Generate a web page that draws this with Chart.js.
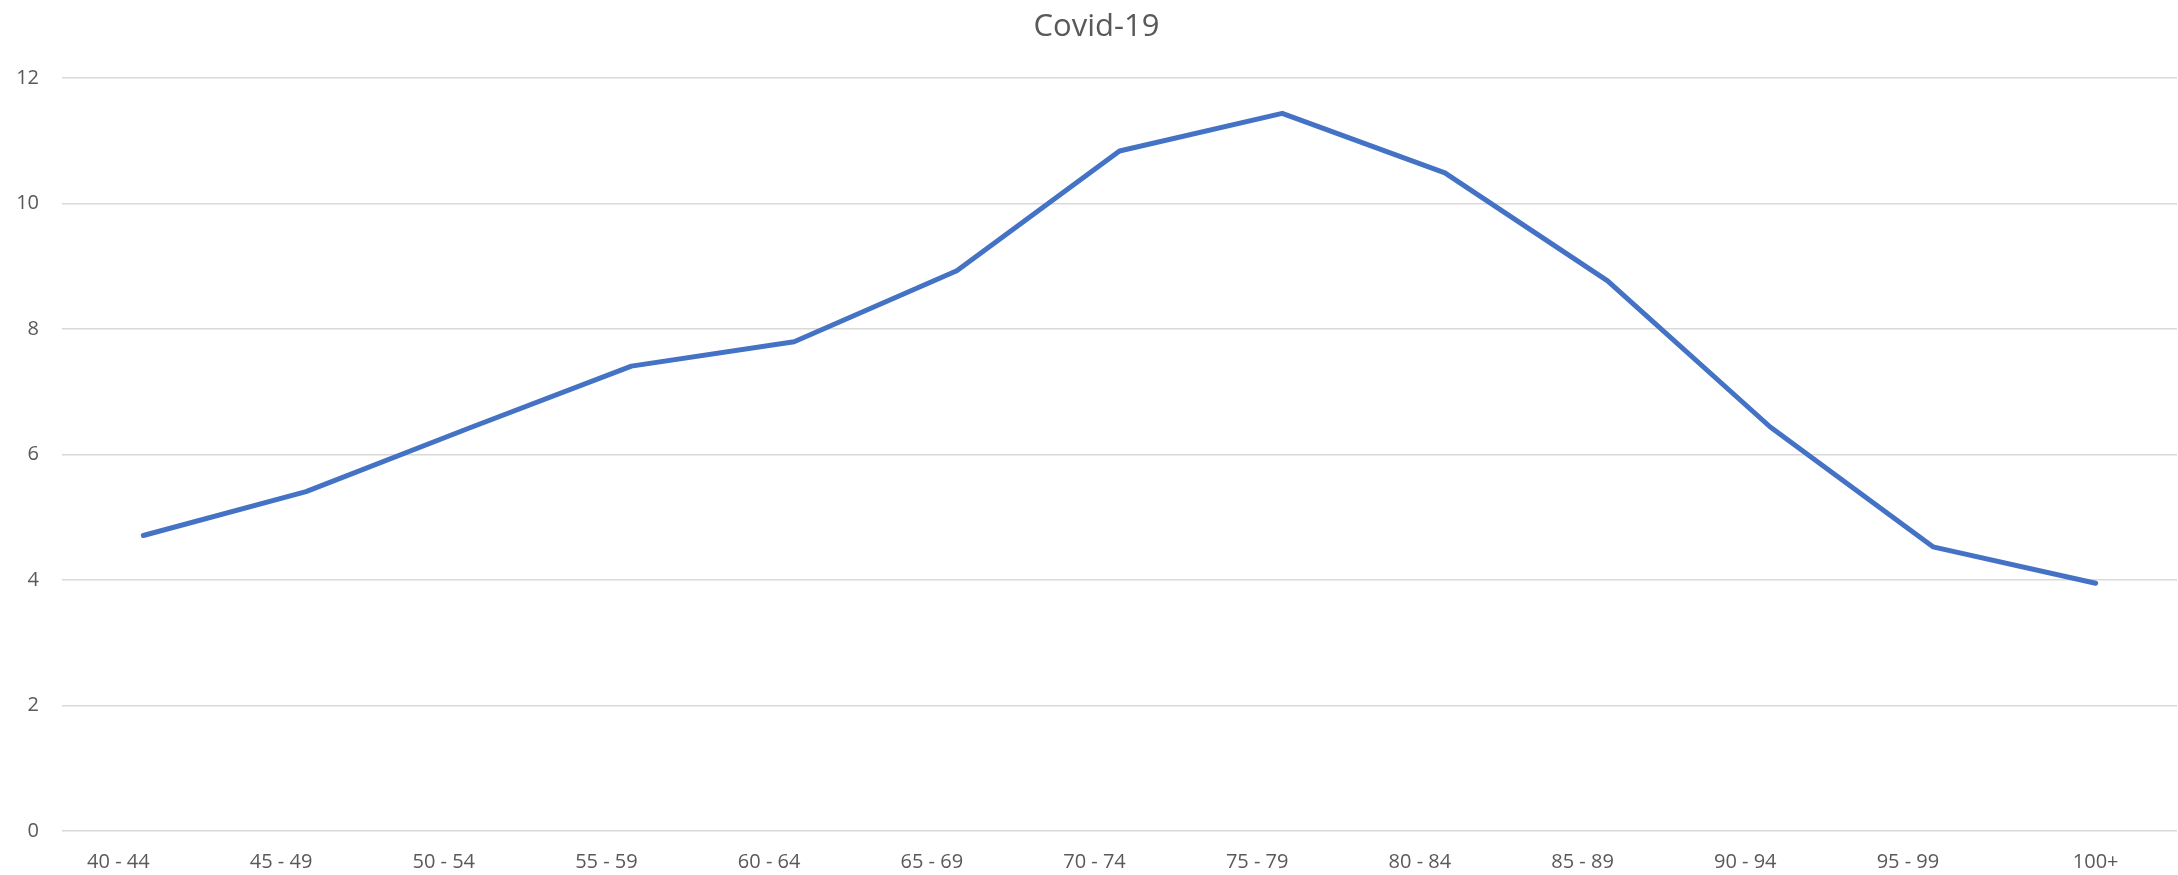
<!DOCTYPE html>
<html>
<head>
<meta charset="utf-8">
<title>Covid-19</title>
<script src="https://cdn.jsdelivr.net/npm/chart.js@4.4.1/dist/chart.umd.min.js"></script>
<style>
  html, body { margin: 0; padding: 0; background: #fff; }
  #wrap { width: 2178px; height: 875px; }
</style>
</head>
<body>
<div id="wrap"><canvas id="covidChart"></canvas></div>
<script>
// Age groups and values
const ageGroups = ['40 - 44', '45 - 49', '50 - 54', '55 - 59', '60 - 64', '65 - 69', '70 - 74',
  '75 - 79', '80 - 84', '85 - 89', '90 - 94', '95 - 99', '100+'];
const covidValues = [4.71, 5.41, 6.42, 7.41, 7.80, 8.93, 10.84, 11.44, 10.49, 8.77, 6.44, 4.53, 3.95];
const yTicks = [0, 2, 4, 6, 8, 10, 12];

const textColor = '#595959';
const gridColor = '#d9d9d9';

const ctx = document.getElementById('covidChart');
new Chart(ctx, {
  type: 'line',
  data: {
    labels: ageGroups,
    datasets: [
      {
        label: 'Covid-19',
        data: covidValues,
        borderColor: '#4472c4',
        borderWidth: 5,
        borderCapStyle: 'round',
        borderJoinStyle: 'round',
        pointRadius: 0,
        tension: 0,
        fill: false,
      },
    ],
  },
  options: {
    responsive: true,
    maintainAspectRatio: false,
    animation: false,
    layout: { padding: { left: 16, right: 1, top: 0, bottom: 0 } },
    plugins: {
      legend: { display: false },
      tooltip: { enabled: false },
      title: {
        display: true,
        text: 'Covid-19',
        color: textColor,
        font: { family: 'Open Sans', size: 31, weight: 'normal' },
        padding: { top: 9, bottom: 32 },
      },
    },
    scales: {
      x: {
        offset: true,
        grid: { display: false, drawTicks: false },
        border: { display: false },
        ticks: {
          color: textColor,
          font: { family: 'Open Sans', size: 20 },
          padding: 19,
          maxRotation: 0,
          autoSkip: false,
          // ranged labels sit a little left of their point in the original
          callback: (v, i) => (ageGroups[i].includes('-') ? ageGroups[i] + '\u2003\u2003\u2002' : ageGroups[i]),
        },
        afterFit: (scale) => {
          scale.paddingLeft = 0;
          scale.paddingRight = 0;
          scale.height = 44;
        },
      },
      y: {
        min: yTicks[0],
        max: yTicks[yTicks.length - 1],
        afterBuildTicks: (axis) => { axis.ticks = yTicks.map((v) => ({ value: v })); },
        grid: { color: gridColor, lineWidth: 1.5, drawTicks: false },
        border: { display: false },
        ticks: {
          color: textColor,
          font: { family: 'Open Sans', size: 20 },
          padding: 23,
        },
        afterFit: (scale) => {
          scale.width = 46;
          scale.paddingBottom = 0;
        },
      },
    },
  },
});
</script>
</body>
</html>
